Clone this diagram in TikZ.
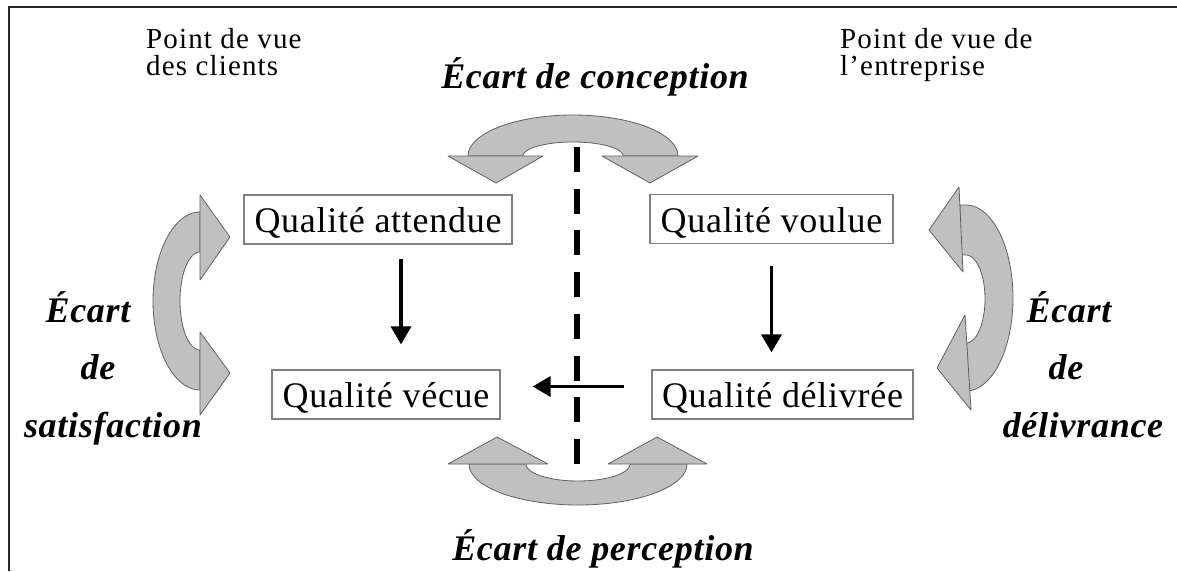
\documentclass[tikz,border=0pt]{standalone}
\usepackage{fontspec}
\setmainfont{Liberation Serif}
\newfontfamily\boxfont{Liberation Serif}[LetterSpace=2]
\newfontfamily\pvfont{Liberation Serif}[LetterSpace=4]
\newfontfamily\gapfont{Liberation Serif}[LetterSpace=2]
\usetikzlibrary{arrows.meta,calc}
\definecolor{bandfill}{HTML}{C0C0C0}
\definecolor{bandline}{HTML}{606060}
\definecolor{boxline}{HTML}{808080}
\begin{document}
\begin{tikzpicture}[x=1pt,y=-1pt,
  qbox/.style={draw=boxline, line width=1.2pt, inner sep=0pt, minimum height=49pt,
    text height=29pt, text depth=3pt,
    font=\boxfont\fontsize{36}{40}\selectfont},
  gap/.style={font=\gapfont\bfseries\itshape\fontsize{36}{40}\selectfont, anchor=base, inner sep=0pt},
  pv/.style={font=\pvfont\fontsize{29}{27}\selectfont, align=left, anchor=base west, inner sep=0pt},
  band/.style={fill=bandfill, draw=bandline, line width=0.8pt, line join=round},
  flow/.style={line width=3.5pt, -{Triangle[length=18pt,width=20pt]}},
  divider/.style={line width=6.5pt, dash pattern=on 25pt off 16.7pt}]
\useasboundingbox (0,0) rectangle (1177,571);
% frame
\draw[line width=1.6pt, black!85] (9,571) -- (9,7) -- (1177,7);

% texts top
\node[pv] (pvc) at (146,75) {Point de vue\\des clients};
\node[pv] (pve) at (840,75) {Point de vue de\\l’entreprise};

% gap labels
\node[gap] (gc) at (595,88) {Écart de conception};
\node[gap] (gp) at (603,560) {Écart de perception};
\node[gap] (gs1) at (88,322) {Écart};
\node[gap] (gs2) at (98,379) {de};
\node[gap] (gs3) at (113,437) {satisfaction};
\node[gap] (gd1) at (1069,322) {Écart};
\node[gap] (gd2) at (1066,379) {de};
\node[gap] (gd3) at (1083,437) {délivrance};

% top band
\draw[band] (468,156) -- plot[domain=180:360,samples=60] ({573+105*cos(\x)},{156+41*sin(\x)})
  -- (623,156) -- plot[domain=360:180,samples=60] ({573+50*cos(\x)},{156+14*sin(\x)}) -- cycle;
\draw[band] (448,156) -- (543,156) -- (496,183) -- cycle;
\draw[band] (602,156) -- (698,156) -- (650,183) -- cycle;

% bottom band
\draw[band] (469,464) -- plot[domain=180:0,samples=60] ({578+109*cos(\x)},{464+41*sin(\x)})
  -- (630,464) -- plot[domain=0:180,samples=60] ({578+52*cos(\x)},{464+17*sin(\x)}) -- cycle;
\draw[band] (448,464) -- (548,464) -- (497,437) -- cycle;
\draw[band] (608,464) -- (707,464) -- (657,437) -- cycle;

% left band
\draw[band] (200,212) -- plot[domain=270:90,samples=60] ({200+47*cos(\x)},{301+89*sin(\x)})
  -- (200,350) -- plot[domain=90:270,samples=60] ({200+20*cos(\x)},{301+49*sin(\x)}) -- cycle;
\draw[band] (200,195) -- (200,280) -- (230,237) -- cycle;
\draw[band] (200,332) -- (200,415) -- (230,373) -- cycle;

% right band
\draw[band] (960,205) -- plot[domain=-90:90,samples=60] ({966+47*cos(\x)},{298+93*sin(\x)})
  -- (960,391) -- (960,343) -- (966,343)
  -- plot[domain=90:-90,samples=60] ({966+19*cos(\x)},{299+44*sin(\x)}) -- (960,255) -- cycle;
\draw[band] (959,187) -- (963,272) -- (929,230) -- cycle;
\draw[band] (965,315) -- (971,410) -- (937,368) -- cycle;

% boxes
\node[qbox, minimum width=268pt] (attendue) at (378,219.5) {Qualité attendue};
\node[qbox, minimum width=228pt] (vecue) at (386,394.5) {Qualité vécue};
\node[qbox, minimum width=243pt] (voulue) at (771.5,219) {Qualité voulue};
\node[qbox, minimum width=261pt] (delivree) at (782.5,394.5) {Qualité délivrée};

% divider
\coordinate (dtop) at (577,147);
\coordinate (dbot) at (577,465);
\draw[divider] (dtop) -- (dbot);

% flows
\draw[flow, shorten <=14pt, shorten >=25pt] ([xshift=23pt]attendue.south) -- ([xshift=15pt]vecue.north);
\draw[flow, shorten <=22pt, shorten >=17pt] (voulue.south) -- (voulue.south |- delivree.north);
\draw[flow, shorten <=27pt, shorten >=32pt] ([yshift=8pt]delivree.west) -- ([yshift=8pt]vecue.east);
\end{tikzpicture}
\end{document}
